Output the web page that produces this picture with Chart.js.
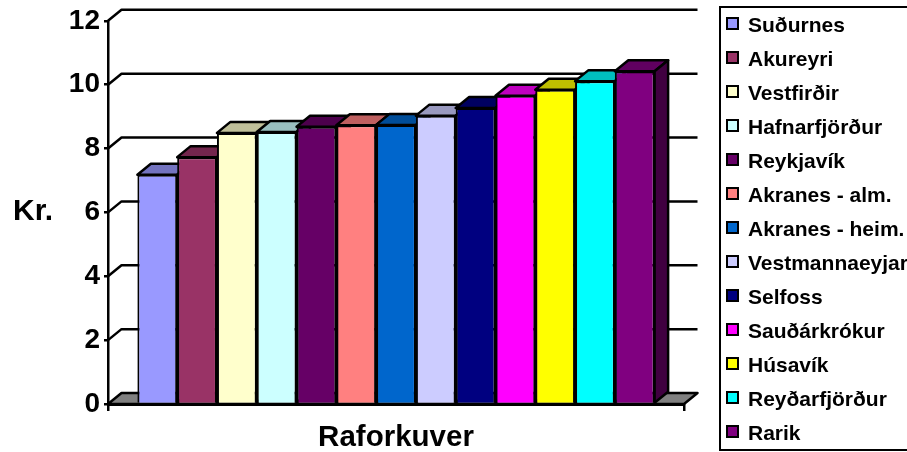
<!DOCTYPE html>
<html lang="en">
<head>
  <meta charset="UTF-8">
  <title>Raforkuver</title>
  <script src="https://cdn.jsdelivr.net/npm/chart.js"></script>
  <style>
    html, body {
      margin: 0;
      background: #fff;
      overflow: hidden;
    }
    #wrap {
      position: relative;
      width: 907px;
      height: 452px;
      overflow: hidden;
    }
    canvas {
      display: block;
    }
    #legend {
      position: absolute;
      left: 719px;
      top: 6px;
      width: 220px;
      height: 441px;
      border: 2px solid #000;
      font: bold 21px "Liberation Sans", Arial, sans-serif;
      color: #000;
    }
    #legend div {
      position: absolute;
      left: 5px;
      white-space: nowrap;
      line-height: 24px;
    }
    #legend i {
      display: inline-block;
      box-sizing: border-box;
      width: 13px;
      height: 13px;
      margin-right: 9px;
      border: 2px solid #000;
      vertical-align: 2px;
    }
  </style>
</head>
<body>

  <div id="wrap">
    <canvas id="chart" width="907" height="452"></canvas>
    <div id="legend"></div>
  </div>

  <script>
    const categories = ['Raforkuver'];
    const seriesNames = ['Suðurnes', 'Akureyri', 'Vestfirðir', 'Hafnarfjörður', 'Reykjavík', 'Akranes - alm.',
      'Akranes - heim.', 'Vestmannaeyjar', 'Selfoss', 'Sauðárkrókur', 'Húsavík', 'Reyðarfjörður', 'Rarik'];
    const seriesValues = [7.18, 7.73, 8.49, 8.52, 8.68, 8.73, 8.74, 9.03, 9.27, 9.65, 9.84, 10.11, 10.42];
    const seriesColors = ['#9999FF', '#993366', '#FFFFCC', '#CCFFFF', '#660066', '#FF8080',
      '#0066CC', '#CCCCFF', '#000080', '#FF00FF', '#FFFF00', '#00FFFF', '#800080'];
    const yTitle = 'Kr.';

    const FONT = '"Liberation Sans", Arial, sans-serif';
    const DX = 13.5, DY = -11; // depth of the fake 3d

    function shade(hex, f) {
      const n = parseInt(hex.slice(1), 16);
      return `rgb(${(n >> 16) * f}, ${((n >> 8) & 255) * f}, ${(n & 255) * f})`;
    }

    function poly(ctx, pts, fill) {
      ctx.beginPath();
      pts.forEach((p, i) => i ? ctx.lineTo(p[0], p[1]) : ctx.moveTo(p[0], p[1]));
      ctx.closePath();
      if (fill) {
        ctx.fillStyle = fill;
        ctx.fill();
      }
      ctx.stroke();
    }

    const depth3d = {
      id: 'depth3d',
      beforeDatasetsDraw(chart) {
        const { ctx, chartArea: a, scales: { y } } = chart;
        ctx.save();
        ctx.strokeStyle = '#000';
        ctx.lineWidth = 2.5;
        ctx.lineJoin = 'round';

        // back wall lines
        y.ticks.forEach(t => {
          const py = y.getPixelForValue(t.value);
          if (t.value === 0) return;
          ctx.beginPath();
          ctx.moveTo(a.left, py);
          ctx.lineTo(a.left + DX, py + DY);
          ctx.lineTo(a.right + DX, py + DY);
          ctx.stroke();
        });

        // floor
        const b = y.getPixelForValue(0);
        poly(ctx, [[a.left, b], [a.left + DX, b + DY], [a.right + DX, b + DY], [a.right, b]], '#808080');

        // top and side of every bar, fronts are drawn over these by the library
        seriesColors.forEach((c, i) => {
          const bar = chart.getDatasetMeta(i).data[0];
          const half = bar.width / 2;
          const l = bar.x - half, r = bar.x + half;
          poly(ctx, [[l, bar.y], [l + DX, bar.y + DY], [r + DX, bar.y + DY], [r, bar.y]], shade(c, 0.75));
          poly(ctx, [[r, bar.y], [r + DX, bar.y + DY], [r + DX, bar.base + DY], [r, bar.base]], shade(c, 0.5));
        });
        ctx.restore();
      },
      afterDraw(chart) {
        const { ctx } = chart;
        ctx.save();
        ctx.fillStyle = '#000';
        ctx.font = 'bold 30px ' + FONT;
        ctx.textAlign = 'left';
        ctx.textBaseline = 'middle';
        ctx.fillText(yTitle, 13, 212);
        ctx.restore();
      }
    };

    new Chart(document.getElementById('chart'), {
      type: 'bar',
      data: {
        labels: categories,
        datasets: seriesNames.map((name, i) => ({
          label: name,
          data: [seriesValues[i]],
          backgroundColor: seriesColors[i],
          borderColor: '#000',
          borderWidth: 2,
          categoryPercentage: 0.898,
          barPercentage: 1
        }))
      },
      plugins: [depth3d],
      options: {
        responsive: false,
        animation: false,
        layout: { padding: { top: 19, right: 223, left: 0, bottom: 0 } },
        plugins: {
          legend: { display: false },
          tooltip: { enabled: false }
        },
        scales: {
          x: {
            afterFit: s => { s.height = 48; },
            ticks: { display: false },
            grid: { drawOnChartArea: false, drawTicks: true, tickLength: 7, offset: true, color: '#000', lineWidth: 2.5 },
            border: { color: '#000', width: 3 },
            title: {
              display: true,
              text: categories[0],
              color: '#000',
              font: { family: FONT, size: 29.5, weight: 'bold' },
              padding: { top: 0, bottom: -4 }
            }
          },
          y: {
            min: 0,
            max: 12,
            afterFit: s => { s.width = 108; },
            ticks: {
              stepSize: 2,
              color: '#000',
              padding: 4,
              font: { family: FONT, size: 28, weight: 'bold' }
            },
            grid: { drawOnChartArea: false, drawTicks: true, tickLength: 4, color: '#000', lineWidth: 2.5 },
            border: { color: '#000', width: 2.5 }
          }
        }
      }
    });

    // legend box, the last name runs off the page in the original too
    const legendBox = document.getElementById('legend');
    seriesNames.forEach((name, i) => {
      const row = document.createElement('div');
      row.style.top = (5 + i * 34) + 'px';
      const swatch = document.createElement('i');
      swatch.style.background = seriesColors[i];
      row.appendChild(swatch);
      row.appendChild(document.createTextNode(name));
      legendBox.appendChild(row);
    });
  </script>

</body>
</html>
